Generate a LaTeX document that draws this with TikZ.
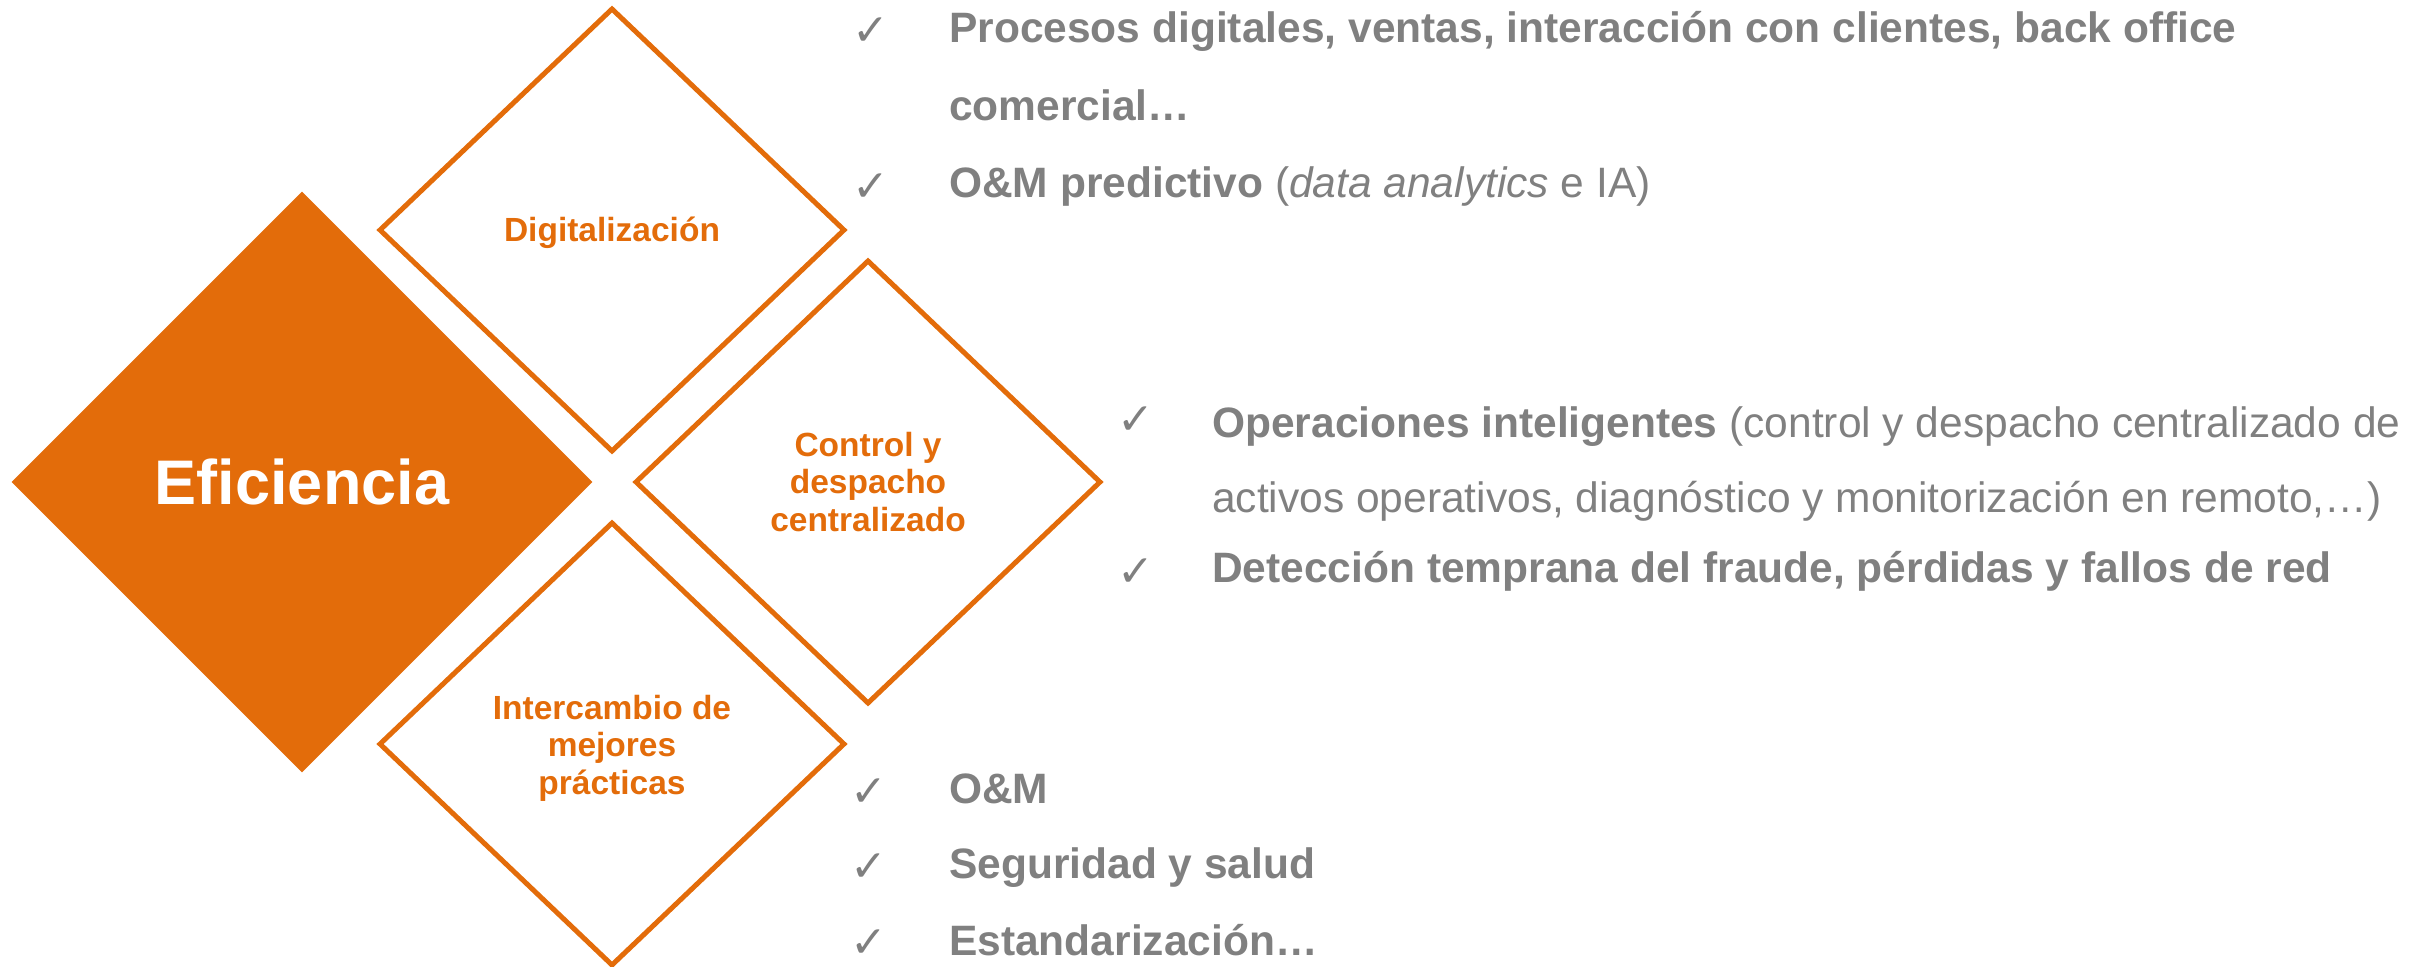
\documentclass[tikz,border=0pt]{standalone}
\usepackage{fontspec}
\setmainfont{Liberation Sans}
\newfontfamily\symfont{DejaVu Sans}
\usetikzlibrary{shapes.geometric}
\definecolor{orng}{HTML}{E36C0A}
\definecolor{grytxt}{HTML}{808080}
\tikzset{
  bigdia/.style={diamond, fill=orng, inner sep=0pt, minimum width=581pt, minimum height=581pt,
    text=white, font=\fontsize{63}{70}\selectfont\bfseries},
  outdia/.style={diamond, draw=orng, line width=5pt, inner sep=0pt, minimum width=466pt, minimum height=444pt},
  dialbl/.style={inner sep=0pt, text=orng, align=center, font=\fontsize{33.5}{37.5}\selectfont\bfseries},
  itemtxt/.style={anchor=base west, inner sep=0pt, text=grytxt, font=\fontsize{42.5}{48}\selectfont},
  chk/.style={anchor=base, inner sep=0pt, text=grytxt, font=\fontsize{44}{48}\selectfont\symfont}
}
\begin{document}
\begin{tikzpicture}[x=1pt,y=-1pt]
\useasboundingbox (0,0) rectangle (2427,966);
\node[bigdia] (ef) at (302,482) {Eficiencia};
\node[outdia] (dig) at (612,230) {};
\node[outdia] (ctl) at (868,482) {};
\node[outdia] (int) at (612,744) {};
\node[dialbl] (diglbl) at ([yshift=-3pt]dig.center) {Digitalización};
\node[dialbl] (ctllbl) at (ctl.center) {Control y\\despacho\\centralizado};
\node[dialbl] (intlbl) at ([yshift=-4pt]int.center) {Intercambio de\\mejores\\prácticas};

\node[chk] (c1) at (871,46) {✓};
\node[chk] (c2) at (871,201) {✓};
\node[itemtxt] (t1) at (949,43) {\textbf{Procesos digitales, ventas, interacción con clientes, back office}};
\node[itemtxt] (t2) at (949,120) {\textbf{comercial…}};
\node[itemtxt] (t3) at (949,197) {\textbf{O\&M predictivo} (\textit{data analytics} e IA)};

\node[chk] (c3) at (1136,434) {✓};
\node[chk] (c4) at (1136,586) {✓};
\node[itemtxt] (m1) at (1212,437) {\textbf{Operaciones inteligentes} (control y despacho centralizado de};
\node[itemtxt] (m2) at (1212,512) {activos operativos, diagnóstico y monitorización en remoto,…)};
\node[itemtxt] (m3) at (1212,582) {\textbf{Detección temprana del fraude, pérdidas y fallos de red}};

\node[chk] (c5) at (869,806) {✓};
\node[chk] (c6) at (869,881) {✓};
\node[chk] (c7) at (869,957) {✓};
\node[itemtxt] (b1) at (949,803) {\textbf{O\&M}};
\node[itemtxt] (b2) at (949,878) {\textbf{Seguridad y salud}};
\node[itemtxt] (b3) at (949,955) {\textbf{Estandarización…}};
\end{tikzpicture}
\end{document}
